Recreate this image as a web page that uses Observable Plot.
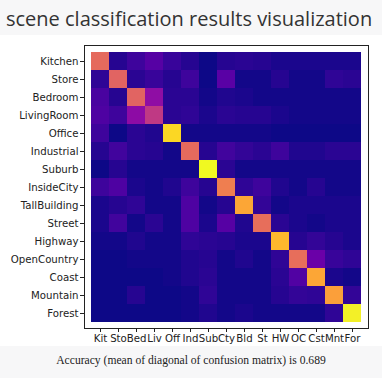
<!DOCTYPE html>
<html>
<head>
<meta charset="utf-8">
<script src="https://cdn.jsdelivr.net/npm/d3@7"></script>
<script src="https://cdn.jsdelivr.net/npm/@observablehq/plot@0.6"></script>
<style>
  html, body { margin: 0; padding: 0; background: #f7f7f8; }
  #title { height: 35px; line-height: 38px; padding-left: 6px; font-family: "Open Sans", sans-serif; font-size: 20px; color: #333; white-space: nowrap; }
  #chart svg { display: block; }
  #caption { text-align: center; font-family: "Liberation Serif", serif; font-size: 11.6px; color: #222; padding-top: 8px; }
</style>
</head>
<body>
<div id="title">scene classification results visualization</div>
<div id="chart"></div>
<div id="caption">Accuracy (mean of diagonal of confusion matrix) is 0.689</div>
<script>
const categories = ["Kitchen","Store","Bedroom","LivingRoom","Office","Industrial","Suburb","InsideCity","TallBuilding","Street","Highway","OpenCountry","Coast","Mountain","Forest"];
const abbreviations = ["Kit","Sto","Bed","Liv","Off","Ind","Sub","Cty","Bld","St","HW","OC","Cst","Mnt","For"];
// rows: true category, columns: predicted category
const kitchen      = [0.62,0.04,0.09,0.15,0.08,0.04,0.00,0.04,0.05,0.04,0.02,0.02,0.02,0.02,0.02];
const store        = [0.06,0.60,0.05,0.08,0.04,0.09,0.00,0.16,0.01,0.01,0.04,0.01,0.01,0.06,0.05];
const bedroom      = [0.12,0.04,0.60,0.30,0.05,0.05,0.01,0.03,0.02,0.01,0.01,0.01,0.01,0.01,0.01];
const livingRoom   = [0.13,0.09,0.29,0.45,0.05,0.06,0.02,0.05,0.04,0.04,0.02,0.01,0.01,0.01,0.01];
const office       = [0.09,0.00,0.05,0.03,0.92,0.01,0.01,0.01,0.01,0.01,0.00,0.00,0.00,0.00,0.00];
const industrial   = [0.04,0.10,0.05,0.04,0.01,0.62,0.04,0.10,0.07,0.05,0.09,0.03,0.03,0.05,0.05];
const suburb       = [0.00,0.04,0.01,0.01,0.01,0.01,1.00,0.05,0.01,0.01,0.01,0.01,0.01,0.01,0.01];
const insideCity   = [0.09,0.13,0.02,0.01,0.03,0.09,0.04,0.68,0.06,0.09,0.03,0.01,0.04,0.01,0.01];
const tallBuilding = [0.02,0.04,0.06,0.01,0.01,0.13,0.01,0.04,0.80,0.07,0.01,0.02,0.02,0.02,0.02];
const street       = [0.02,0.10,0.01,0.05,0.01,0.13,0.02,0.15,0.03,0.63,0.05,0.02,0.01,0.02,0.02];
const highway      = [0.01,0.01,0.03,0.01,0.01,0.06,0.05,0.04,0.02,0.02,0.84,0.04,0.07,0.04,0.02];
const openCountry  = [0.00,0.00,0.01,0.01,0.01,0.03,0.04,0.01,0.03,0.01,0.06,0.63,0.20,0.08,0.06];
const coast        = [0.00,0.00,0.00,0.00,0.01,0.03,0.05,0.01,0.01,0.01,0.05,0.14,0.80,0.02,0.01];
const mountain     = [0.00,0.00,0.04,0.00,0.00,0.01,0.06,0.01,0.01,0.01,0.04,0.07,0.06,0.78,0.07];
const forest       = [0.00,0.00,0.00,0.00,0.00,0.01,0.03,0.01,0.02,0.01,0.01,0.01,0.01,0.06,0.98];

const matrix = [kitchen, store, bedroom, livingRoom, office, industrial, suburb, insideCity, tallBuilding, street, highway, openCountry, coast, mountain, forest];
const data = [];
matrix.forEach((row, i) => row.forEach((v, j) => data.push({truth: categories[i], pred: abbreviations[j], value: v})));

const chart = Plot.plot({
  width: 382,
  height: 311,
  marginTop: 10,
  marginBottom: 18,
  marginLeft: 84,
  marginRight: 14,
  style: {background: "white", fontFamily: "DejaVu Sans, sans-serif", fontSize: "10.2px", color: "#222"},
  x: {domain: abbreviations, label: null, padding: 0, tickSize: 4, tickPadding: 2},
  y: {domain: categories, label: null, padding: 0, tickSize: 4, tickPadding: 2},
  color: {type: "linear", scheme: "plasma", domain: [0, d3.max(data, d => d.value)]},
  marks: [
    Plot.cell(data, {x: "pred", y: "truth", fill: "value", inset: 0}),
    Plot.frame({stroke: "#222"})
  ]
});
document.getElementById("chart").appendChild(chart);
</script>
</body>
</html>
